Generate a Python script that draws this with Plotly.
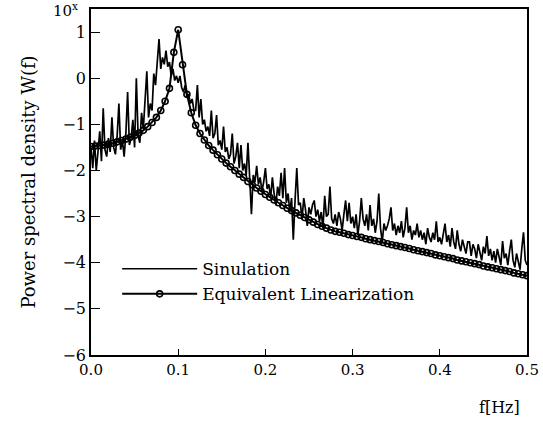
import plotly.graph_objects as go

# ---- data (log10 of power spectral density) ----
sim_step = 0.002
sim_values = [
    -1.50, -1.95, -1.35, -2.00, -1.60, -1.15, -1.80, -0.65, -1.55, -1.70,
    -1.30, -1.60, -0.85, -1.50, -1.65, -1.25, -0.55, -1.55, -1.35, -1.70,
    -1.20, -0.30, -1.45, -1.30, -0.90, -1.50, 0.00, -1.25, -1.40, -0.75,
    -1.10, -0.45, 0.15, -0.85, -0.55, -0.70, 0.10, -0.15, 0.30, 0.85,
    0.20, 0.45, 0.30, 0.60, 0.25, 0.35, 0.05, 0.20, -0.05, 0.05,
    -0.10, 0.05, -0.20, -0.30, -0.15, -0.40, -0.35, -0.55, -0.45, -0.70,
    -0.70, -0.15, -0.85, -0.45, -1.00, -0.90, -1.15, -1.05, -1.25, -0.70,
    -1.30, -1.20, -0.80, -1.45, -1.35, -1.55, -1.05, -1.60, -1.50, -1.75,
    -1.65, -1.20, -1.85, -1.70, -1.40, -1.95, -1.45, -2.00, -1.85, -2.10,
    -1.40, -2.05, -2.95, -2.10, -2.25, -1.90, -2.30, -2.15, -2.45, -2.25,
    -1.95, -2.40, -2.30, -2.60, -2.15, -2.50, -2.75, -2.35, -2.55, -2.05,
    -2.60, -1.95, -2.70, -2.50, -2.90, -2.60, -3.50, -2.65, -1.95, -2.75,
    -2.70, -3.05, -2.60, -2.85, -3.20, -2.80, -2.95, -2.75, -2.65, -3.00,
    -2.85, -3.10, -2.90, -3.25, -2.55, -3.00, -2.95, -2.35, -3.05, -3.15,
    -2.95, -3.20, -2.90, -3.05, -3.30, -2.95, -2.65, -3.10, -2.70, -3.15,
    -3.00, -3.25, -2.95, -3.40, -3.10, -2.60, -3.05, -3.20, -2.95, -3.30,
    -2.75, -3.20, -3.05, -3.35, -3.10, -2.50, -3.25, -3.55, -3.15, -3.30,
    -3.20, -3.05, -2.80, -3.30, -3.15, -3.40, -3.20, -3.35, -3.10, -3.45,
    -3.25, -2.80, -3.35, -3.20, -3.50, -3.30, -3.40, -3.15, -3.45, -3.30,
    -3.50, -3.35, -3.60, -3.25, -3.45, -3.55, -3.35, -3.50, -3.10, -3.55,
    -3.45, -3.60, -3.35, -3.15, -3.55, -3.40, -3.65, -3.25, -3.55, -3.70,
    -3.30, -3.60, -3.75, -3.50, -3.65, -3.80, -3.55, -3.55, -3.85, -3.60,
    -3.70, -3.90, -3.60, -3.75, -3.95, -3.65, -3.80, -3.42, -3.85, -3.70,
    -3.95, -3.75, -4.00, -3.70, -3.85, -4.05, -3.53, -3.90, -3.80, -4.05,
    -3.75, -3.50, -3.95, -4.10, -3.80, -3.95, -4.15, -3.70, -3.34, -3.95,
    -4.05,
]
sim_freq = [round(i * sim_step, 3) for i in range(len(sim_values))]

el_step = 0.005
el_values = [
    -1.48, -1.47, -1.46, -1.45, -1.43, -1.41, -1.38, -1.35, -1.32, -1.28,
    -1.24, -1.19, -1.13, -1.05, -0.96, -0.85, -0.70, -0.50, -0.22, 0.56,
    1.05, 0.29, -0.35, -0.75, -1.02, -1.20, -1.34, -1.46, -1.56, -1.66,
    -1.75, -1.84, -1.92, -2.00, -2.08, -2.15, -2.24, -2.31, -2.38, -2.45,
    -2.52, -2.58, -2.64, -2.70, -2.76, -2.82, -2.87, -2.92, -2.97, -3.02,
    -3.07, -3.12, -3.17, -3.21, -3.25, -3.29, -3.32, -3.34, -3.36, -3.39,
    -3.41, -3.43, -3.45, -3.48, -3.50, -3.52, -3.54, -3.56, -3.59, -3.61,
    -3.63, -3.65, -3.67, -3.69, -3.72, -3.74, -3.76, -3.78, -3.80, -3.83,
    -3.85, -3.87, -3.89, -3.91, -3.94, -3.96, -3.98, -4.00, -4.02, -4.04,
    -4.07, -4.09, -4.11, -4.13, -4.15, -4.17, -4.19, -4.22, -4.24, -4.26,
    -4.28,
]
el_freq = [round(i * el_step, 3) for i in range(len(el_values))]

x_ticks = [0.0, 0.1, 0.2, 0.3, 0.4, 0.5]
x_ticklabels = ["0.0", "0.1", "0.2", "0.3", "0.4", "0.5"]
y_ticks = [-6, -5, -4, -3, -2, -1, 0, 1]

FONT = "DejaVu Serif"

fig = go.Figure()
fig.add_trace(go.Scatter(
    x=sim_freq, y=sim_values, mode="lines", name="Sinulation",
    line=dict(color="black", width=1.7),
))
fig.add_trace(go.Scatter(
    x=el_freq, y=el_values, mode="lines+markers", name="Equivalent Linearization",
    line=dict(color="black", width=2),
    marker=dict(symbol="circle", size=6, color="rgba(0,0,0,0)",
                line=dict(color="black", width=1.6)),
))

fig.update_layout(
    width=543, height=424,
    margin=dict(l=91, r=16, t=9, b=69, autoexpand=False),
    paper_bgcolor="white", plot_bgcolor="white",
    font=dict(family=FONT, size=15, color="black"),
    showlegend=True,
    legend=dict(x=0.06, y=0.30, xanchor="left", yanchor="top",
                bgcolor="rgba(0,0,0,0)", itemwidth=75,
                font=dict(family=FONT, size=17), tracegroupgap=0),
)
fig.update_xaxes(
    range=[0, 0.5], tickvals=x_ticks, ticktext=x_ticklabels,
    ticks="inside", ticklen=6, tickwidth=1.2, tickcolor="black",
    showline=True, linecolor="black", linewidth=1.5, mirror=True,
    showgrid=False, zeroline=False, automargin=False,
    tickfont=dict(family=FONT, size=15),
)
fig.update_yaxes(
    range=[-6, 1.5], tickvals=y_ticks,
    ticks="inside", ticklen=9, tickwidth=1.2, tickcolor="black",
    showline=True, linecolor="black", linewidth=1.5, mirror=True,
    showgrid=False, zeroline=False, automargin=False,
    tickfont=dict(family=FONT, size=16),
    title=dict(text="Power spectral density W(f)", standoff=22,
               font=dict(family=FONT, size=18)),
)
fig.add_annotation(
    text="10<sup>x</sup>", xref="paper", yref="paper",
    x=-0.025, y=1.0, xanchor="right", yanchor="bottom", yshift=-13,
    showarrow=False, font=dict(family=FONT, size=15),
)
fig.add_annotation(
    text="f[Hz]", xref="paper", yref="paper",
    x=0.938, y=0, xanchor="center", yanchor="top", yshift=-41,
    showarrow=False, font=dict(family=FONT, size=16),
)

fig.write_html("out.html", config={"displayModeBar": False},
               post_script="document.body.style.margin='0';")
